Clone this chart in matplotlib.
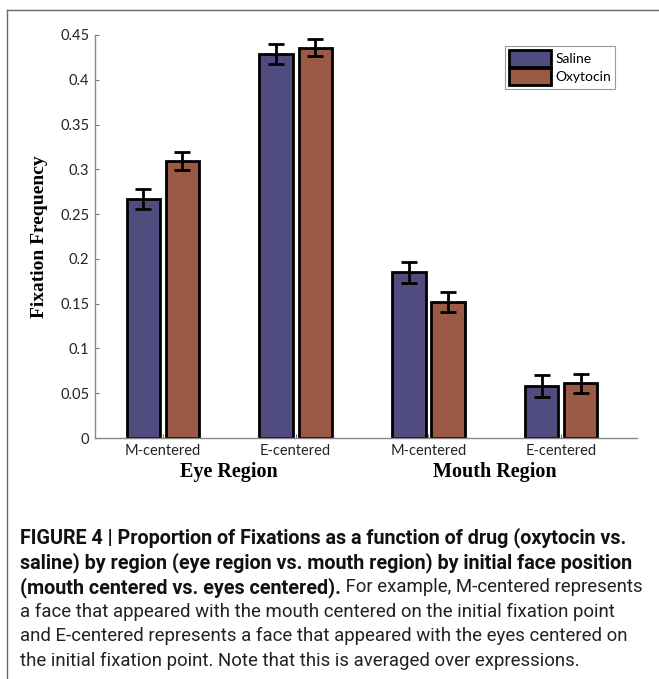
import numpy as np
import matplotlib
matplotlib.use("Agg")
import matplotlib.pyplot as plt
from matplotlib.lines import Line2D

# data
groups = ["M-centered", "E-centered", "M-centered", "E-centered"]
regions = ["Eye Region", "Mouth Region"]
saline = [0.267, 0.429, 0.185, 0.058]
saline_err = [0.011, 0.011, 0.012, 0.012]
oxytocin = [0.309, 0.436, 0.152, 0.061]
oxytocin_err = [0.010, 0.010, 0.011, 0.011]

caption_bold = [
    "FIGURE 4 | Proportion of Fixations as a function of drug (oxytocin vs.",
    "saline) by region (eye region vs. mouth region) by initial face position",
    "(mouth centered vs. eyes centered).",
]
caption_rest = [
    " For example, M-centered represents",
    "a face that appeared with the mouth centered on the initial fixation point",
    "and E-centered represents a face that appeared with the eyes centered on",
    "the initial fixation point. Note that this is averaged over expressions.",
]

W, H = 659, 679
fig = plt.figure(figsize=(W / 100, H / 100), dpi=100)
ax = fig.add_axes([95 / W, 1 - 438 / H, 542 / W, 403 / H])

x = np.arange(1, len(groups) + 1)
bw = 0.25
off = 0.147
sal_col = "#514C80"
oxy_col = "#9A5A46"

ax.bar(x - off, saline, bw, color=sal_col, edgecolor="black", linewidth=2, label="Saline", zorder=2)
ax.bar(x + off, oxytocin, bw, color=oxy_col, edgecolor="black", linewidth=2, label="Oxytocin", zorder=2)
ax.errorbar(x - off, saline, yerr=saline_err, fmt="none", ecolor="black", elinewidth=2,
            capsize=6, capthick=2, zorder=3)
ax.errorbar(x + off, oxytocin, yerr=oxytocin_err, fmt="none", ecolor="black", elinewidth=2,
            capsize=6, capthick=2, zorder=3)

ax.set_xlim(0.49, 4.57)
ax.set_ylim(0, 0.45)
ax.set_yticks(np.arange(0, 0.451, 0.05))
ax.set_yticklabels(["0", "0.05", "0.1", "0.15", "0.2", "0.25", "0.3", "0.35", "0.4", "0.45"])
ax.set_xticks(x)
ax.set_xticklabels(groups)
ax.tick_params(direction="in", length=3, width=0.8, color="#777777", labelsize=10.5,
               labelcolor="#222222", pad=4)
for lab in ax.get_xticklabels() + ax.get_yticklabels():
    lab.set_family("Lato")
ax.tick_params(axis="x", pad=4)

for s in ["top", "right"]:
    ax.spines[s].set_visible(False)
for s in ["left", "bottom"]:
    ax.spines[s].set_color("#888888")
    ax.spines[s].set_linewidth(1)

ax.set_ylabel("Fixation Frequency", family="Liberation Serif", fontweight="bold", fontsize=14, labelpad=9)

# region labels under the group pairs
for i, r in enumerate(regions):
    xc = (x[2 * i] + x[2 * i + 1]) / 2
    ax.text(xc, -0.0385, r, ha="center", va="center", family="Liberation Serif",
            fontweight="bold", fontsize=14.5, transform=ax.transData, clip_on=False)

leg = ax.legend(loc="upper left", bbox_to_anchor=(0.757, 0.973), fancybox=False, framealpha=1,
                edgecolor="#999999", prop={"family": "Lato", "size": 10}, handlelength=3.0,
                handleheight=1.45, handletextpad=0.3, borderpad=0.3, labelspacing=0.12,
                borderaxespad=0)
leg.get_frame().set_linewidth(0.8)

# outer frame lines (top and left)
fig.add_artist(Line2D([7 / W, 7 / W], [0, 1 - 10 / H], color="#666666", lw=1))
fig.add_artist(Line2D([7 / W, 1], [1 - 10 / H, 1 - 10 / H], color="#666666", lw=1))

# caption
fig.canvas.draw()
renderer = fig.canvas.get_renderer()
cap_font = "Roboto"
bold_size = 14.2
reg_size = 13.4
y0 = 538
dy = 24.6
line = 0
for i, txt in enumerate(caption_bold):
    t = fig.text(20 / W, 1 - (y0 + dy * line) / H, txt, family=cap_font, fontweight="bold",
                 fontsize=bold_size, va="center", ha="left", color="#111111")
    if i == len(caption_bold) - 1:
        bb = t.get_window_extent(renderer)
        fig.text(bb.x1 / W, 1 - (y0 + dy * line) / H, caption_rest[0], family=cap_font,
                 fontsize=reg_size, va="center", ha="left", color="#222222")
    line += 1
for txt in caption_rest[1:]:
    fig.text(20 / W, 1 - (y0 + dy * line) / H, txt, family=cap_font,
             fontsize=reg_size, va="center", ha="left", color="#222222")
    line += 1

fig.savefig("out.png", dpi=100)
